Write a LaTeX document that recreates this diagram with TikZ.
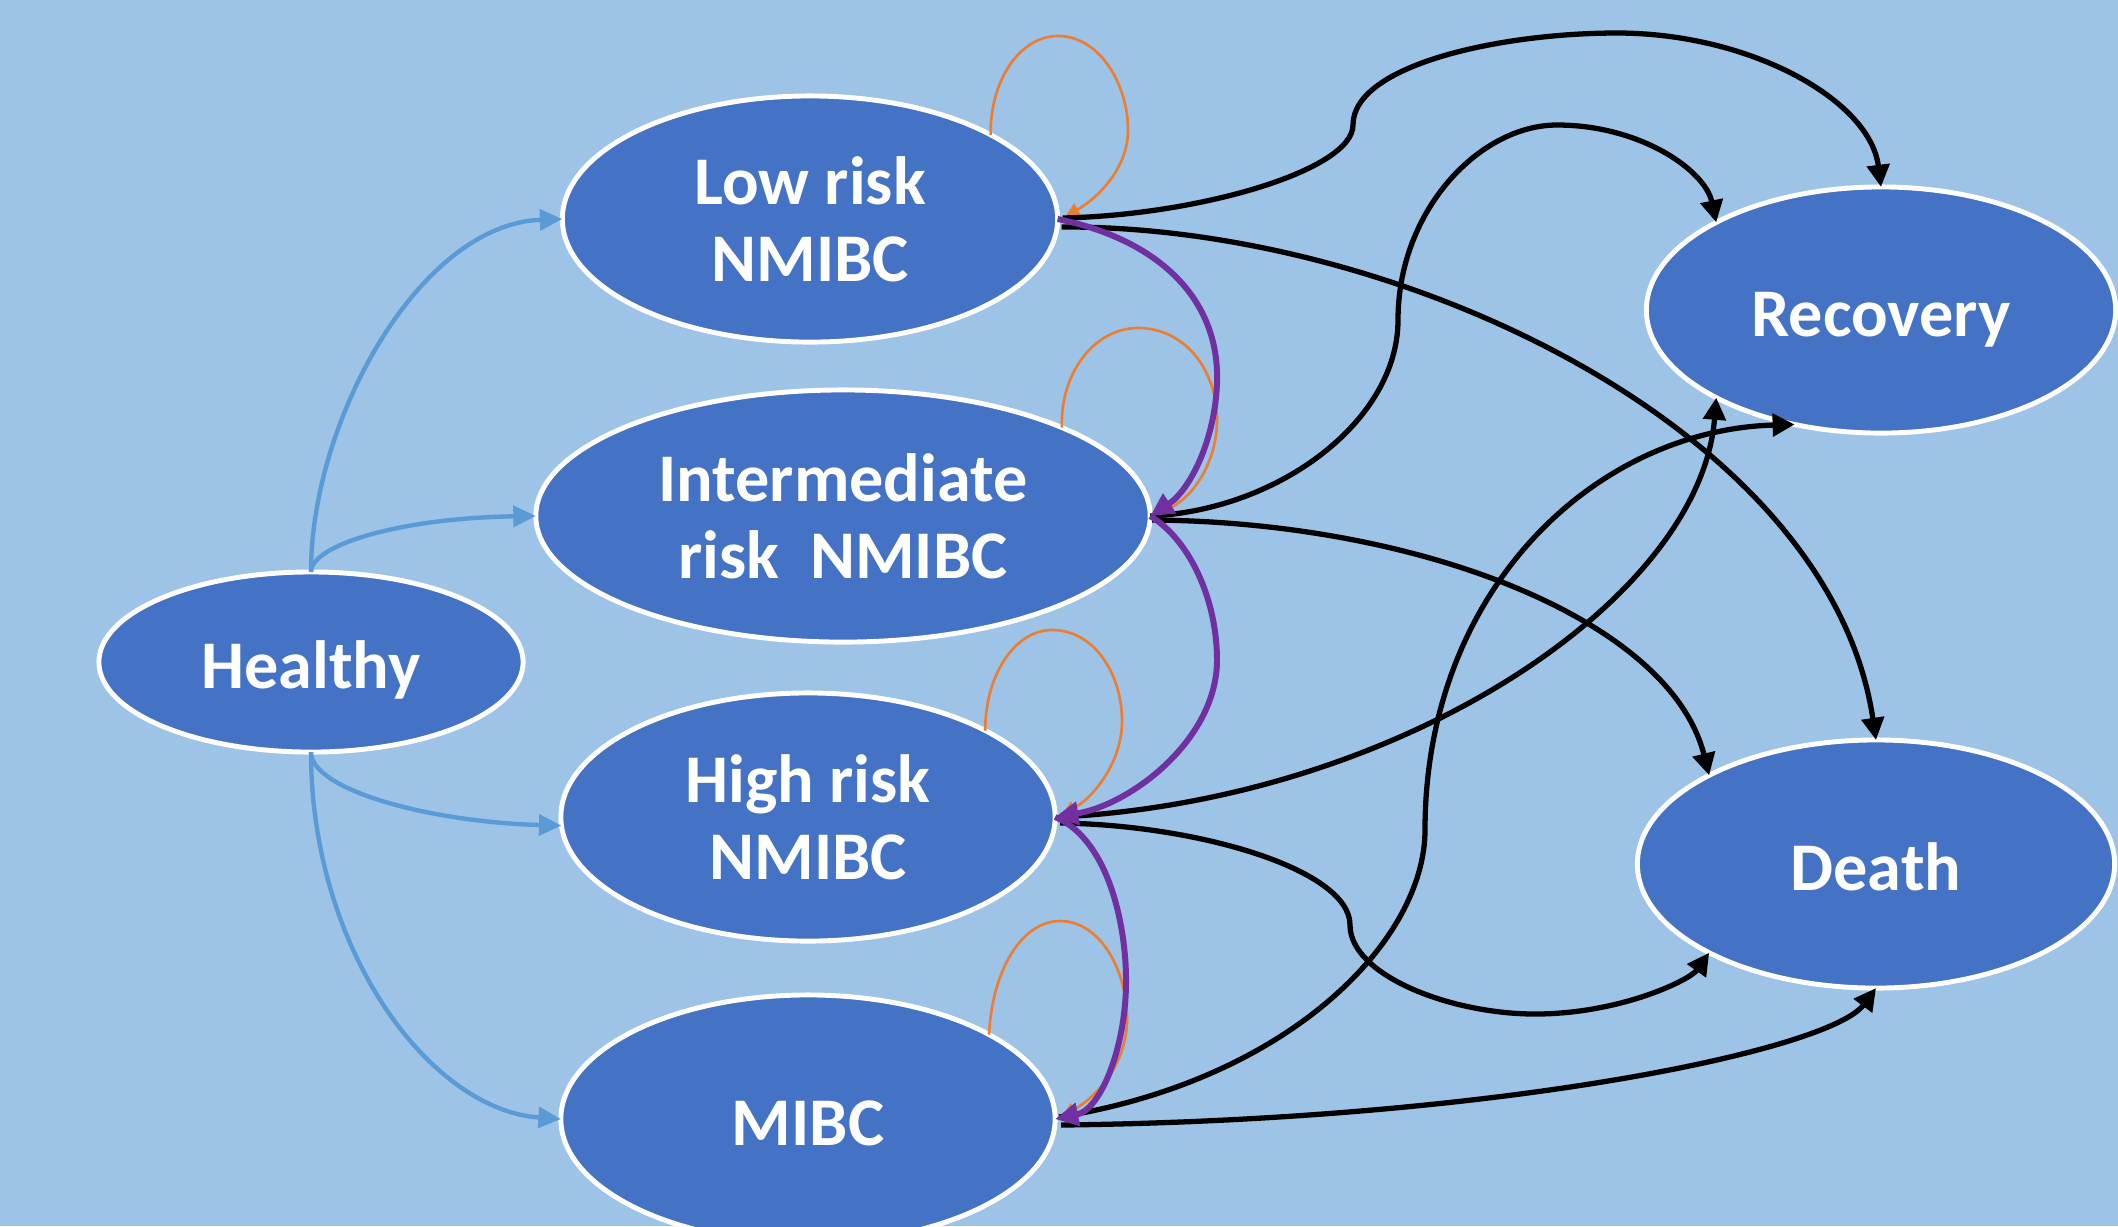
\documentclass[tikz,border=0pt]{standalone}
\usepackage{fontspec}
\setmainfont{Carlito}
\usetikzlibrary{shapes.geometric,arrows.meta,calc}
\definecolor{bgblue}{HTML}{9DC3E6}
\definecolor{nodeblue}{HTML}{4472C4}
\definecolor{lightarrow}{HTML}{5B9BD5}
\definecolor{loopor}{HTML}{ED7D31}
\definecolor{progpurple}{HTML}{7030A0}
\begin{document}
\begin{tikzpicture}[x=0.01cm,y=-0.01cm,
  state/.style={ellipse, draw=white, line width=1.4pt, fill=nodeblue, text=white,
    font=\bfseries\fontsize{19.4pt}{21.9pt}\selectfont, align=center, inner sep=0pt, outer sep=0pt},
  oneline/.style={text height=14.8pt, text depth=0pt},
  hb/.style={draw=lightarrow, line width=1.25pt, -{Triangle[length=6.4pt,width=5.9pt]}},
  selfloop/.style={draw=loopor, line width=0.75pt, -{Triangle[length=3.9pt,width=3.9pt]}},
  prog/.style={draw=progpurple, line width=1.7pt, -{Triangle[length=6.6pt,width=6.4pt]}},
  blk/.style={draw=black, line width=1.5pt, -{Triangle[length=6.3pt,width=6.3pt]}}]

\fill[bgblue] (0,0) rectangle (2118,1226);
\useasboundingbox (0,0) rectangle (2118,1226);
\clip (0,0) rectangle (2118,1226);

% states
\node[state, oneline, minimum width=4.24cm, minimum height=1.80cm] (healthy) at (311,662) {Healthy};
\node[state, minimum width=4.95cm, minimum height=2.46cm] (low) at (810,219) {Low risk\\NMIBC};
\node[state, minimum width=6.14cm, minimum height=2.52cm] (inter) at (843,516) {Intermediate\\risk\ \ NMIBC};
\node[state, minimum width=4.94cm, minimum height=2.48cm] (high) at (808,817) {High risk\\NMIBC};
\node[state, oneline, minimum width=4.94cm, minimum height=2.48cm] (mibc) at (808,1119) {MIBC};
\node[state, oneline, minimum width=4.69cm, minimum height=2.46cm] (rec) at (1881,310) {Recovery};
\node[state, oneline, minimum width=4.77cm, minimum height=2.48cm] (death) at (1876,864) {Death};

% from Healthy
\draw[hb] (healthy.north) .. controls (311,420) and (420,224) .. (low.west);
\draw[hb] (healthy.north) .. controls (311,545) and (400,518) .. (inter.west);
\draw[hb] (healthy.south) .. controls (311,790) and (430,822) .. (high.182);
\draw[hb] (healthy.south) .. controls (311,950) and (430,1110) .. (mibc.west);

% self loops
\draw[selfloop] (low.25) .. controls (990,80) and (1020,36) .. (1058,36)
  .. controls (1100,36) and (1128,85) .. (1128,130)
  .. controls (1128,170) and (1095,200) .. ($(low.east)+(8,-3)$);
\draw[selfloop] (inter.22) .. controls (1060,372) and (1095,328) .. (1138,328)
  .. controls (1185,328) and (1217,370) .. (1217,420)
  .. controls (1217,460) and (1195,495) .. ($(inter.east)+(10,-3)$);
\draw[selfloop] (high.26) .. controls (985,675) and (1015,630) .. (1052,630)
  .. controls (1095,630) and (1122,675) .. (1122,721)
  .. controls (1122,765) and (1090,800) .. ($(high.east)+(7,-3)$);
\draw[selfloop] (mibc.25) .. controls (992,970) and (1022,921) .. (1060,921)
  .. controls (1100,921) and (1127,970) .. (1127,1019)
  .. controls (1127,1065) and (1095,1098) .. ($(mibc.east)+(7,-3)$);

% to Recovery / Death
\draw[blk] ($(low.east)+(5,-1)$) .. controls (1200,215) and (1353,170) .. (1353,125)
  .. controls (1353,65) and (1500,33) .. (1617,33)
  .. controls (1750,33) and (1870,100) .. (rec.north);
\draw[blk] ($(low.east)+(4,8)$) .. controls (1400,225) and (1830,430) .. (death.north);
\draw[blk] (inter.east) .. controls (1280,510) and (1398,420) .. (1398,320)
  .. controls (1398,210) and (1480,125) .. (1557,125)
  .. controls (1640,125) and (1705,170) .. (rec.152);
\draw[blk] ($(inter.east)+(2,4)$) .. controls (1420,522) and (1670,620) .. (death.152);
\draw[blk] ($(high.east)+(4,0)$) .. controls (1400,800) and (1700,600) .. (rec.208);
\draw[blk] ($(mibc.east)+(4,-2)$) .. controls (1290,1080) and (1425,940) .. (1425,830)
  .. controls (1425,590) and (1595,430) .. (rec.233);
\draw[blk] ($(high.east)+(5,6)$) .. controls (1200,825) and (1350,870) .. (1350,925)
  .. controls (1350,975) and (1450,1014) .. (1535,1014)
  .. controls (1620,1014) and (1690,980) .. (death.208);
\draw[blk] ($(mibc.east)+(6,6)$) .. controls (1500,1120) and (1830,1050) .. (death.south);

% progression
\draw[prog] (low.east) .. controls (1160,240) and (1220,300) .. (1217,383)
  .. controls (1215,440) and (1190,490) .. (inter.east);
\draw[prog] (inter.east) .. controls (1190,540) and (1217,600) .. (1217,660)
  .. controls (1217,740) and (1130,805) .. (high.east);
\draw[prog] (high.east) .. controls (1110,840) and (1127,930) .. (1126,985)
  .. controls (1125,1050) and (1100,1110) .. (mibc.east);
\end{tikzpicture}
\end{document}
